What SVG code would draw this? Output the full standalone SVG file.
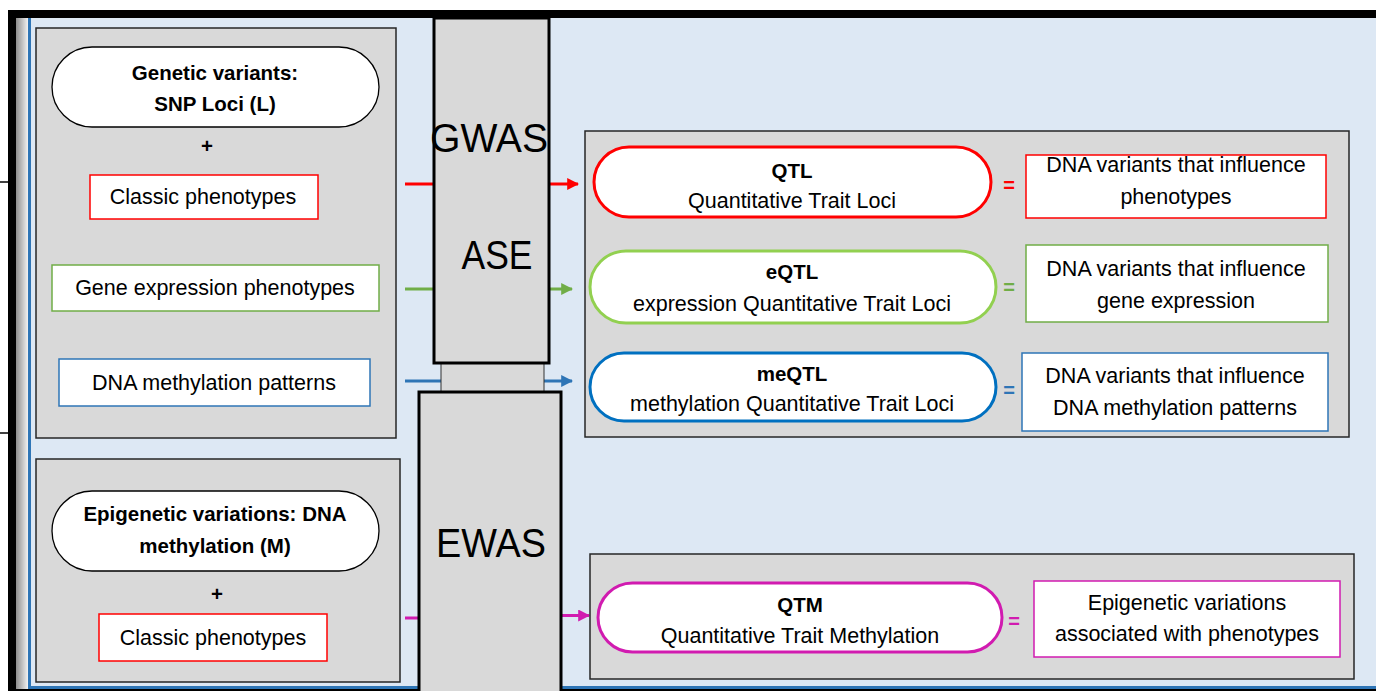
<svg xmlns="http://www.w3.org/2000/svg" width="1376" height="691" viewBox="0 0 1376 691">
<defs>
<linearGradient id="edge" x1="0" y1="0" x2="1" y2="0">
<stop offset="0" stop-color="#8c8c8c"/>
<stop offset="1" stop-color="#f2f2f2"/>
</linearGradient>
<marker id="mRed" viewBox="0 0 10 10" refX="9" refY="5" markerWidth="4" markerHeight="4" orient="auto"><path d="M0,0 L10,5 L0,10 z" fill="#ff0000"/></marker>
<marker id="mGreen" viewBox="0 0 10 10" refX="9" refY="5" markerWidth="4" markerHeight="4" orient="auto"><path d="M0,0 L10,5 L0,10 z" fill="#70ad47"/></marker>
<marker id="mBlue" viewBox="0 0 10 10" refX="9" refY="5" markerWidth="4" markerHeight="4" orient="auto"><path d="M0,0 L10,5 L0,10 z" fill="#2e75b6"/></marker>
<marker id="mMag" viewBox="0 0 10 10" refX="9" refY="5" markerWidth="4" markerHeight="4" orient="auto"><path d="M0,0 L10,5 L0,10 z" fill="#d11bb0"/></marker>
<style>
text{font-family:"Liberation Sans",Arial,sans-serif;fill:#000;text-anchor:middle}
.t{font-size:21.5px}
.b{font-size:20.5px;font-weight:bold}
.big{font-size:40px}
.panel{fill:#d9d9d9;stroke:#262626;stroke-width:1.5}
.pill{fill:#fff;stroke-width:3}
.box{fill:#fff;stroke-width:1.5}
.col{fill:#d9d9d9;stroke:#000;stroke-width:3}
.eq{font-size:20px;font-weight:bold}
.c{fill:none;stroke-width:3}
</style>
</defs>
<rect width="1376" height="691" fill="#fff"/>
<g id="frame">
<rect x="31" y="18" width="1345" height="670" fill="#dde8f4"/>
<rect x="16" y="18" width="12" height="673" fill="url(#edge)"/>
<rect x="28" y="18" width="3" height="670" fill="#2e75b6"/>
<rect x="28" y="686" width="1348" height="3" fill="#2e75b6"/>
<rect x="8" y="689" width="1368" height="2" fill="#000"/>
<rect x="8" y="10" width="1368" height="8" fill="#000"/>
<rect x="8" y="10" width="8" height="681" fill="#000"/>
<line x1="0" y1="182" x2="8" y2="182" stroke="#000" stroke-width="1.5"/>
<line x1="0" y1="433" x2="8" y2="433" stroke="#000" stroke-width="1.5"/>
</g>
<g id="genetic-panel">
<rect class="panel" x="36" y="28" width="360" height="410"/>
<rect class="pill" x="52" y="47" width="327" height="80" rx="40" stroke="#000" style="stroke-width:1.3"/>
<text class="b" x="215" y="80">Genetic variants:</text>
<text class="b" x="215" y="111">SNP Loci (L)</text>
<text class="b" x="207" y="153">+</text>
</g>
<g id="classic-phenotypes-1">
<rect class="box" x="90" y="175" width="228" height="44" stroke="#ff0000"/>
<text class="t" x="203" y="204">Classic phenotypes</text>
</g>
<g id="gene-expression">
<rect class="box" x="52" y="265" width="327" height="46" stroke="#70ad47"/>
<text class="t" x="215" y="295">Gene expression phenotypes</text>
</g>
<g id="dna-methylation">
<rect class="box" x="59" y="359" width="311" height="47" stroke="#2e75b6"/>
<text class="t" x="214" y="390">DNA methylation patterns</text>
</g>
<g id="epigenetic-panel">
<rect class="panel" x="36" y="459" width="364" height="223"/>
<rect class="pill" x="52" y="491" width="327" height="80" rx="40" stroke="#000" style="stroke-width:1.3"/>
<text class="b" x="215" y="521">Epigenetic variations: DNA</text>
<text class="b" x="215" y="553">methylation (M)</text>
<text class="b" x="217" y="601">+</text>
</g>
<g id="classic-phenotypes-2">
<rect class="box" x="99" y="614" width="228" height="47" stroke="#ff0000"/>
<text class="t" x="213" y="645">Classic phenotypes</text>
</g>
<g id="connectors">
<line class="c" x1="405" y1="184" x2="578" y2="184" stroke="#ff0000" marker-end="url(#mRed)"/>
<line class="c" x1="405" y1="289" x2="572" y2="289" stroke="#70ad47" marker-end="url(#mGreen)"/>
<line class="c" x1="405" y1="381" x2="572" y2="381" stroke="#2e75b6" marker-end="url(#mBlue)"/>
<line class="c" x1="405" y1="618" x2="425" y2="618" stroke="#d11bb0"/>
<line class="c" x1="555" y1="615.5" x2="589" y2="615.5" stroke="#d11bb0" marker-end="url(#mMag)"/>
</g>
<g id="ase-link">
<rect x="441" y="362" width="103" height="31" fill="#d9d9d9" stroke="#333" stroke-width="1"/>
</g>
<g id="gwas">
<rect class="col" x="434" y="18" width="115" height="345"/>
<text class="big" x="489" y="152" textLength="118" lengthAdjust="spacingAndGlyphs">GWAS</text>
<text class="big" x="497" y="269" textLength="71" lengthAdjust="spacingAndGlyphs">ASE</text>
</g>
<g id="ewas">
<rect class="col" x="419" y="392" width="142" height="302"/>
<text class="big" x="491" y="557" textLength="110" lengthAdjust="spacingAndGlyphs">EWAS</text>
</g>
<g id="results-panel">
<rect class="panel" x="585" y="131" width="764" height="306"/>
</g>
<g id="qtl">
<rect class="pill" x="594" y="147" width="397" height="70" rx="35" stroke="#ff0000"/>
<text class="b" x="792" y="178">QTL</text>
<text class="t" x="792" y="208">Quantitative Trait Loci</text>
<text class="eq" x="1009" y="192" style="fill:#ff0000">=</text>
<rect class="box" x="1026" y="155" width="300" height="63" stroke="#ff0000"/>
<text class="t" x="1176" y="172">DNA variants that influence</text>
<text class="t" x="1176" y="204">phenotypes</text>
</g>
<g id="eqtl">
<rect class="pill" x="590" y="251" width="406" height="72" rx="36" stroke="#92d050"/>
<text class="b" x="792" y="279">eQTL</text>
<text class="t" x="792" y="311">expression Quantitative Trait Loci</text>
<text class="eq" x="1009" y="294" style="fill:#70ad47">=</text>
<rect class="box" x="1026" y="245" width="302" height="77" stroke="#70ad47"/>
<text class="t" x="1176" y="276">DNA variants that influence</text>
<text class="t" x="1176" y="308">gene expression</text>
</g>
<g id="meqtl">
<rect class="pill" x="590" y="353" width="406" height="68" rx="34" stroke="#0070c0"/>
<text class="b" x="792" y="381">meQTL</text>
<text class="t" x="792" y="411">methylation Quantitative Trait Loci</text>
<text class="eq" x="1009" y="397" style="fill:#2e75b6">=</text>
<rect class="box" x="1022" y="353" width="306" height="78" stroke="#2e75b6"/>
<text class="t" x="1175" y="383">DNA variants that influence</text>
<text class="t" x="1175" y="415">DNA methylation patterns</text>
</g>
<g id="qtm-panel">
<rect class="panel" x="590" y="554" width="764" height="125"/>
</g>
<g id="qtm">
<rect class="pill" x="598" y="583" width="404" height="69" rx="34.5" stroke="#d11bb0"/>
<text class="b" x="800" y="612">QTM</text>
<text class="t" x="800" y="643">Quantitative Trait Methylation</text>
<text class="eq" x="1014" y="628" style="fill:#d11bb0">=</text>
<rect class="box" x="1034" y="581" width="306" height="76" stroke="#d11bb0"/>
<text class="t" x="1187" y="610">Epigenetic variations</text>
<text class="t" x="1187" y="641">associated with phenotypes</text>
</g>
</svg>
